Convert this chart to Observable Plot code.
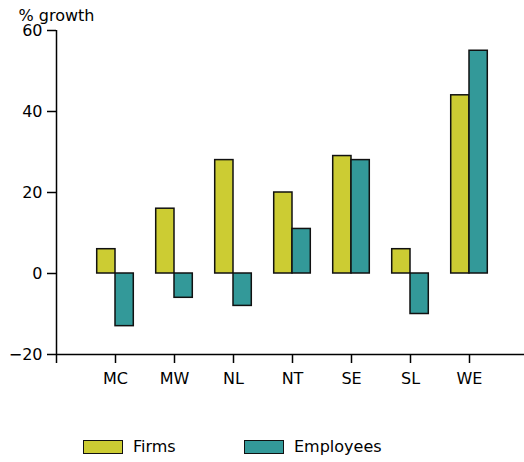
<!DOCTYPE html>
<html>
<head>
<meta charset="utf-8">
<script src="https://cdn.jsdelivr.net/npm/d3@7"></script>
<script src="https://cdn.jsdelivr.net/npm/@observablehq/plot@0.6"></script>
<style>
  html, body { margin: 0; padding: 0; background: #fff; }
  #wrap { position: relative; width: 524px; height: 462px; font-family: "DejaVu Sans", sans-serif; font-size: 16px; color: #000; }
  #legend { position: absolute; left: 0; top: 420px; width: 524px; height: 42px; }
  .item { position: absolute; top: 17px; display: flex; align-items: center; }
  .sw { width: 38px; height: 12px; border: 1.5px solid #111; margin-right: 10px; }
</style>
</head>
<body>
<div id="wrap">
  <div id="chart"></div>
  <div id="legend"></div>
</div>
<script>
const categories = ["MC", "MW", "NL", "NT", "SE", "SL", "WE"];
const firms = [6, 16, 28, 20, 29, 6, 44];
const employees = [-13, -6, -8, 11, 28, -10, 55];
const seriesNames = ["Firms", "Employees"];
const seriesColors = ["#cccc33", "#339999"];
const yTicks = [-20, 0, 20, 40, 60];
const yLabel = "% growth";

const barW = 0.31;
const rows = [];
categories.forEach((c, i) => {
  rows.push({cat: c, series: "Firms", x1: i + 1 - barW, x2: i + 1, value: firms[i]});
  rows.push({cat: c, series: "Employees", x1: i + 1, x2: i + 1 + barW, value: employees[i]});
});

const W = 524, H = 420;
const chart = Plot.plot({
  width: W,
  height: H,
  marginLeft: 56,
  marginRight: 0,
  marginTop: 30,
  marginBottom: 66,
  style: {fontFamily: "DejaVu Sans, sans-serif", fontSize: "16px", color: "#000", background: "#fff"},
  x: {domain: [0, (W - 56) / 59], axis: null},
  y: {domain: [-20, 60], axis: null},
  color: {domain: seriesNames, range: seriesColors},
  marks: [
    Plot.rectY(rows, {x1: "x1", x2: "x2", y1: 0, y2: "value", fill: "series", stroke: "#111", strokeWidth: 1.5}),
    Plot.axisY(yTicks, {tickSize: 9, tickPadding: 5, label: null, stroke: "#000", strokeWidth: 1.5}),
    Plot.axisX(d3.range(0, categories.length + 1), {tickSize: 9, tickPadding: 9, label: null, stroke: "#000", strokeWidth: 1.5,
      tickFormat: d => d === 0 ? "" : categories[d - 1]}),
    Plot.ruleX([0], {y1: -20, y2: 60, stroke: "#000", strokeWidth: 1.5}),
    Plot.ruleY([-20], {stroke: "#000", strokeWidth: 1.5}),
    Plot.text([yLabel], {frameAnchor: "top-left", textAnchor: "start", lineAnchor: "middle", dx: -38, dy: -15, fill: "#000"})
  ]
});
document.getElementById("chart").appendChild(chart);

const legend = document.getElementById("legend");
const pos = [[83], [244]];
seriesNames.forEach((s, i) => {
  const it = document.createElement("div");
  it.className = "item";
  it.style.left = pos[i][0] + "px";
  const sw = document.createElement("div");
  sw.className = "sw";
  sw.style.background = seriesColors[i];
  const t = document.createElement("span");
  t.textContent = s;
  it.appendChild(sw);
  it.appendChild(t);
  legend.appendChild(it);
});
</script>
</body>
</html>
